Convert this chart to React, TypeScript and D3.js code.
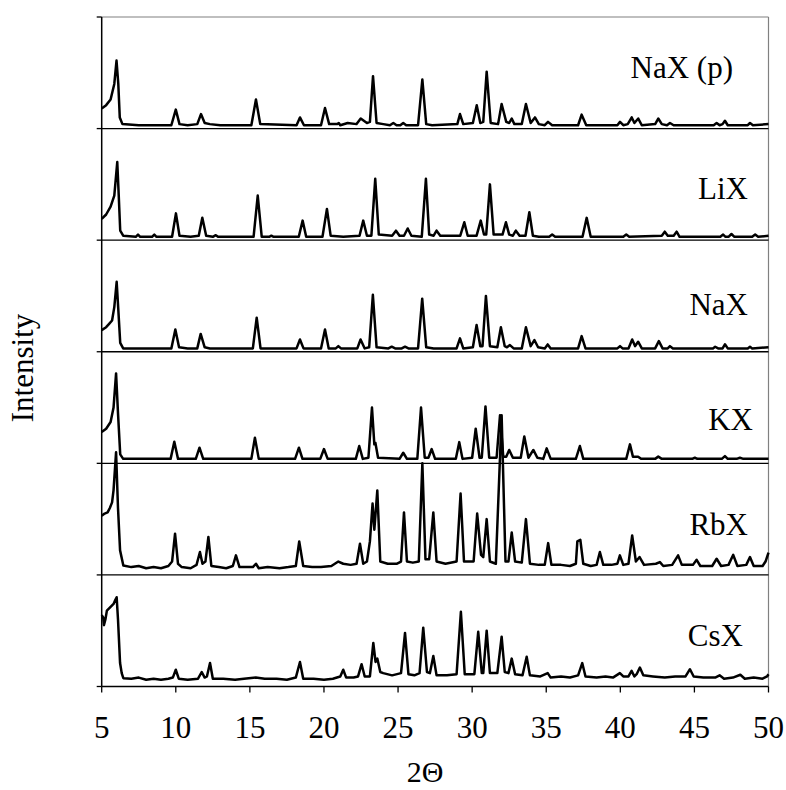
import React from "react";
import * as d3 from "d3";

// ---- data (2Θ in degrees, intensity in arbitrary units; each pattern stacked by 100) ----
const sampleNames = ["NaX (p)", "LiX", "NaX", "KX", "RbX", "CsX"];
const xTicks = [5, 10, 15, 20, 25, 30, 35, 40, 45, 50];

const naxP: [number, number][] = [
  [5.0,18],[5.3,21],[5.6,26],[5.85,40],[6.0,61],[6.12,40],[6.22,10],[6.4,4],[7.5,3],[9.7,3],[10.0,17],[10.25,4],[10.8,3],
  [11.45,4],[11.7,13],[11.95,5],[12.3,4],[13,3],[15.1,3],[15.41,26],[15.7,4],[18.15,3],[18.38,10],[18.65,3],[19.8,3],
  [20.07,18.5],[20.35,4],[20.9,4],[21.0,5],[21.1,3],[21.6,5],[22.2,4],[22.48,9],[22.9,5],[23.1,6],[23.31,47],[23.55,5],
  [24.0,4],[24.45,3],[24.68,5],[24.9,3],[25.15,3],[25.35,5],[25.55,3],[26.35,3],[26.64,44],[26.9,4],[27.3,3],[29.0,4],
  [29.18,13],[29.4,4],[30.05,5],[30.31,21],[30.55,5],[30.75,6],[30.98,51],[31.25,5],[31.75,4],[31.99,22],[32.3,6],
  [32.5,5],[32.67,9],[32.85,4],[33.35,4],[33.63,22],[33.95,5],[34.24,10],[34.5,4],[34.9,3],[35.12,6],[35.4,3],
  [37.15,3],[37.39,12.5],[37.7,3],[39.8,3],[39.98,6],[40.2,3],[40.5,4],[40.77,10],[40.95,5],[41.21,9],[41.45,3],
  [42.35,4],[42.56,9],[42.8,4],[43.15,3],[43.35,5],[43.6,3],[46.3,3],[46.5,5],[46.7,3],[46.9,4],[47.06,7],[47.25,3],
  [48.6,3],[48.75,5],[48.95,3],[50,4],
];

const liX: [number, number][] = [
  [5.0,19],[5.3,23],[5.6,30],[5.85,40],[6.05,70],[6.15,40],[6.25,8.5],[6.45,4],[7.3,3],[7.45,5],[7.6,3],[8.4,3],[8.55,5],
  [8.7,3],[9.75,3],[10.01,24],[10.25,4],[11.0,3],[11.55,4],[11.79,20],[12.05,4],[12.5,3],[12.7,4.5],[12.85,3],[15.25,3],
  [15.53,40],[15.8,3],[16.3,3],[16.45,4],[16.6,3],[18.3,3],[18.56,17.5],[18.8,3],[19.9,3],[20.2,28],[20.45,4],[21.3,3],
  [22.4,4],[22.65,17.5],[22.9,4],[23.2,4],[23.46,55],[23.7,5],[24.6,4],[24.86,8.5],[25.1,4],[25.4,4],[25.65,10.5],
  [25.9,4],[26.6,3],[26.88,55],[27.1,5],[27.4,4],[27.6,8.5],[27.85,4],[29.2,4],[29.47,16],[29.7,4],[30.3,4],
  [30.58,17.5],[30.8,5],[30.95,5],[31.2,50],[31.45,5],[32.05,5],[32.28,16],[32.5,5],[32.75,4],[32.95,8.5],[33.2,4],
  [33.6,4],[33.86,25],[34.1,4],[34.5,3],[35.2,3],[35.4,5],[35.6,3],[37.45,3],[37.73,20],[38.0,3],[40.2,3],[40.4,5],
  [40.6,3],[42.8,4],[43.0,7.6],[43.2,4],[43.6,4],[43.8,7.6],[44.0,3],[46.75,3],[46.94,5],[47.1,3],[47.3,3],[47.5,5.5],
  [47.7,3],[48.9,3],[49.1,5],[49.3,3],[50,4],
];

const naX: [number, number][] = [
  [5.0,19.4],[5.3,22],[5.5,25],[5.7,28],[5.85,40],[6.01,62.7],[6.12,38],[6.25,8],[6.45,3],[9.7,3],[9.97,20],[10.22,4],
  [10.8,3],[11.45,3],[11.68,16],[11.95,4],[12.3,3],[15.2,3],[15.46,30.5],[15.72,3],[18.15,3],[18.38,11],[18.62,3],
  [19.8,3],[20.07,20],[20.32,3],[20.8,3],[20.97,5],[21.15,3],[22.25,3],[22.47,11],[22.75,3],[23.05,4],[23.3,51],
  [23.55,4],[24.35,3],[24.57,4.5],[24.8,3],[25.25,3],[25.47,4.5],[25.7,3],[26.35,3],[26.63,47.6],[26.9,4],[27.4,3],
  [28.95,3],[29.18,12],[29.4,3],[30.05,4],[30.3,24],[30.55,5],[30.7,5],[30.93,50],[31.2,5],[31.7,4],[31.94,22],
  [32.2,5],[32.35,4],[32.55,6],[32.8,3],[33.35,3],[33.63,22],[33.95,5],[34.2,10.5],[34.45,4],[34.9,3],[35.1,6.6],
  [35.3,3],[37.15,3],[37.39,14],[37.65,3],[39.8,3],[39.98,5],[40.15,3],[40.55,3],[40.8,11],[41.0,5],[41.2,9],[41.45,3],
  [42.35,3],[42.6,9.5],[42.85,3],[43.2,3],[43.35,5],[43.55,3],[46.25,3],[46.4,4.5],[46.6,3],[46.9,3],[47.06,6.7],
  [47.25,3],[48.6,3],[48.75,4.5],[48.9,3],[50,4],
];

const kX: [number, number][] = [
  [5.0,28],[5.3,31],[5.6,37],[5.8,50],[5.97,80.6],[6.1,45],[6.25,8],[6.45,4],[9.65,4],[9.9,19.4],[10.15,4],[11.35,4],
  [11.6,14],[11.85,4],[15.1,4],[15.34,23],[15.6,4],[18.05,4],[18.31,14],[18.55,4],[19.75,4],[20.0,12.8],[20.25,4],
  [22.15,4],[22.38,15.5],[22.62,4],[23.0,5],[23.24,50],[23.4,17],[23.47,18.5],[23.65,5],[25.1,4],[25.35,9.5],[25.6,4],
  [26.3,4],[26.55,50],[26.8,5],[27.05,5],[27.27,12.8],[27.5,4],[28.9,4],[29.13,19],[29.35,4],[30.0,5],[30.24,31],
  [30.5,5],[30.65,5],[30.9,51],[31.15,5],[31.65,5],[31.88,43],[32.1,6],[32.3,6],[32.5,12],[32.75,5],[33.28,5],
  [33.52,24],[33.8,5],[34.13,12],[34.4,5],[34.8,4],[35.03,13.4],[35.3,4],[37.0,4],[37.27,15.5],[37.5,4],[40.4,4],
  [40.65,17],[40.85,6],[41.2,6],[41.4,4],[42.35,4],[42.56,6],[42.8,4],[44.85,4],[45.03,5],[45.2,4],[46.85,4],[47.06,6.5],
  [47.25,4],[47.85,4],[48.07,5],[48.3,4],[50,4],
];

const rbX: [number, number][] = [
  [5.0,53],[5.2,55],[5.4,56],[5.55,60],[5.7,65],[5.8,76],[5.97,110],[6.1,60],[6.24,22],[6.46,8.5],[7.0,7],[7.5,8],
  [8.0,6],[8.5,7],[9.0,6],[9.5,8],[9.75,12],[9.95,37],[10.15,10],[10.4,7],[11.0,6],[11.4,9],[11.63,20.5],[11.8,10],
  [12.0,12],[12.2,34],[12.4,8],[12.9,7],[13.4,6],[13.85,8],[14.06,17.5],[14.3,7],[14.8,7],[15.2,7],[15.41,10],[15.6,6],
  [16.2,7],[17,6],[17.6,7],[18.1,8],[18.33,30],[18.6,8],[19.2,7],[19.8,7],[20.5,8],[20.97,12],[21.3,10],[21.8,9],
  [22.2,10],[22.43,28],[22.65,10],[22.9,12],[23.1,30],[23.28,64],[23.4,40.5],[23.6,75.7],[23.8,12],[24.3,10],[24.9,10],
  [25.2,12],[25.4,56],[25.6,12],[26.0,11],[26.4,12],[26.64,100],[26.85,14],[27.1,14],[27.38,56],[27.6,12],[28.2,10],
  [28.95,12],[29.22,73],[29.45,12],[30.1,12],[30.34,55],[30.6,18],[30.75,16],[30.98,50],[31.2,12],[31.6,10],
  [31.99,143],[32.25,12],[32.45,12],[32.67,38],[32.9,12],[33.35,11],[33.63,50],[33.9,10],[34.5,9],[34.9,9],
  [35.13,28.5],[35.35,9],[36,9],[36.6,8],[37.0,10],[37.1,30],[37.3,31.5],[37.5,10],[38.0,8],[38.4,9],[38.62,20.5],
  [38.85,9],[39.4,9],[39.8,10],[39.97,17.5],[40.2,9],[40.55,10],[40.8,35.4],[41.05,12],[41.3,16],[41.6,9],[42.4,10],
  [42.67,11.5],[42.9,8],[43.5,9],[43.9,17.5],[44.15,9],[44.9,9],[45.15,13.5],[45.4,8],[46.2,8],[46.5,14.5],[46.8,8],
  [47.3,9],[47.62,18],[47.9,8],[48.5,9],[48.75,16],[49.0,8],[49.6,8],[49.8,12],[50,20],
];

const csX: [number, number][] = [
  [5.0,64],[5.1,62],[5.15,55],[5.25,60],[5.35,68],[5.5,70],[5.65,72],[5.8,74],[5.9,77],[6.01,80],[6.1,60],[6.24,21],
  [6.35,12],[6.46,7.5],[7.0,7],[7.5,8],[8,6],[8.5,7],[9,6],[9.5,7],[9.8,8],[10.0,15],[10.2,7],[10.8,6],[11.5,7],
  [11.75,13],[11.95,8],[12.1,9],[12.31,21],[12.5,7],[13.2,7],[14,6],[14.6,7],[15.4,8],[16,7],[16.8,7],[17.5,6],[18.1,8],
  [18.38,22],[18.6,7],[19.3,7],[20,6],[20.6,7],[21.1,9],[21.3,15],[21.5,8],[22.0,8],[22.3,9],[22.54,20],[22.75,9],
  [23.1,9],[23.33,39],[23.48,22],[23.6,25],[23.8,13],[24.0,12],[24.6,10],[25.2,12],[25.47,48],[25.7,11],[26.1,10],
  [26.45,12],[26.7,52.7],[26.95,13],[27.15,12],[27.38,27.3],[27.6,10],[28.3,10],[28.95,11],[29.24,67],[29.5,11],
  [30.15,11],[30.41,49],[30.65,12],[30.75,12],[30.98,50],[31.2,12],[31.7,12],[31.99,44.6],[32.2,13],[32.45,12],
  [32.67,25],[32.9,11],[33.4,10],[33.68,26.7],[33.9,10],[34.6,9],[35.1,12],[35.3,8],[36,9],[36.6,8],[37.15,10],
  [37.43,21],[37.65,9],[38.4,8],[39,9],[39.5,8],[39.97,12],[40.2,9],[40.55,9],[40.76,14],[40.95,9],[41.1,11],[41.32,17],
  [41.55,10],[42.2,9],[43,8],[43.7,9],[44.4,9],[44.7,15.5],[44.95,9],[45.6,8],[46.4,8],[46.7,10],[47,7],[47.6,8],
  [48.1,10.5],[48.4,7],[49.0,8],[49.6,7],[49.9,9],[50,11],
];

const patterns = [naxP, liX, naX, kX, rbX, csX];

// ---- layout ----
const W = 786;
const H = 790;
const left = 101.7;
const right = 768.5;
const top = 17;
const bottom = 686.5;
const step = 100;
const labelPos = [
  { x: 733, y: 78 },
  { x: 748, y: 199 },
  { x: 748, y: 315 },
  { x: 753, y: 430 },
  { x: 748, y: 535 },
  { x: 743, y: 646 },
];
const font = '"Liberation Serif", "Times New Roman", Times, serif';

export default function App() {
  const n = patterns.length;
  const x = d3.scaleLinear().domain([5, 50]).range([left, right]);
  const y = d3.scaleLinear().domain([0, n * step]).range([bottom, top]);
  const gridVals = d3.range(0, n * step + 1, step);

  return (
    <svg
      width={W}
      height={H}
      style={{ position: "absolute", left: 0, top: 0, background: "#fff" }}
      fontFamily={font}
    >
      <rect x={0} y={0} width={W} height={H} fill="#fff" />
      {/* plot border (grey top/right) */}
      <line x1={left} x2={right} y1={y(n * step)} y2={y(n * step)} stroke="#808080" strokeWidth={1.2} />
      <line x1={right} x2={right} y1={top} y2={bottom} stroke="#808080" strokeWidth={1.2} />
      {/* panel separators */}
      {gridVals.slice(0, n).map((v) => (
        <line key={"g" + v} x1={left} x2={right} y1={y(v)} y2={y(v)} stroke="#000" strokeWidth={1.3} />
      ))}
      {/* patterns */}
      {patterns.map((p, i) => {
        const off = (n - 1 - i) * step;
        const line = d3
          .line<[number, number]>()
          .x((d) => x(d[0]))
          .y((d) => y(d[1] + off))
          .curve(d3.curveLinear);
        return (
          <path
            key={sampleNames[i]}
            d={line(p) || ""}
            fill="none"
            stroke="#000"
            strokeWidth={2.5}
            strokeLinejoin="round"
          />
        );
      })}
      {/* left axis */}
      <line x1={left} x2={left} y1={top} y2={bottom} stroke="#000" strokeWidth={1.5} />
      {gridVals.map((v) => (
        <line key={"yt" + v} x1={left - 5} x2={left} y1={y(v)} y2={y(v)} stroke="#000" strokeWidth={1.3} />
      ))}
      {/* bottom axis ticks & labels */}
      {xTicks.map((t) => (
        <g key={"xt" + t}>
          <line x1={x(t)} x2={x(t)} y1={bottom} y2={bottom + 6} stroke="#000" strokeWidth={1.3} />
          <text x={x(t)} y={738} textAnchor="middle" fontSize={31} fill="#000">
            {t}
          </text>
        </g>
      ))}
      {/* sample labels */}
      {sampleNames.map((s, i) => (
        <text key={"l" + s} x={labelPos[i].x} y={labelPos[i].y} textAnchor="end" fontSize={31} fill="#000">
          {s}
        </text>
      ))}
      {/* axis titles */}
      <text x={425} y={782} textAnchor="middle" fontSize={30} fill="#000">
        2Θ
      </text>
      <text transform="translate(33,368) rotate(-90)" textAnchor="middle" fontSize={31} fill="#000">
        Intensity
      </text>
    </svg>
  );
}
